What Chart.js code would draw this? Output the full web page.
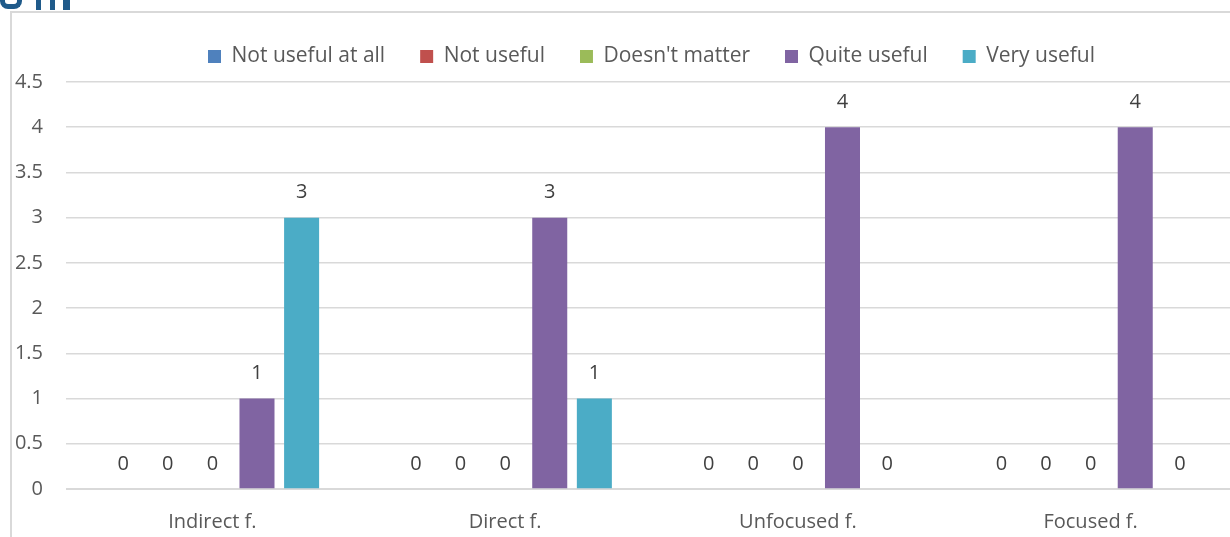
<!DOCTYPE html>
<html>
<head>
<meta charset="utf-8">
<script src="https://cdn.jsdelivr.net/npm/chart.js@4/dist/chart.umd.min.js"></script>
<style>
    html, body { margin: 0; padding: 0; background: #fff; overflow: hidden; }
    body { width: 1230px; height: 537px; position: relative; }
    #wrap { position: absolute; left: 0; top: 0; width: 1250px; height: 537px; }
    .frame { position: absolute; left: 10px; top: 11px; width: 1240px; height: 540px;
             border-left: 2px solid #d9d9d9; border-top: 2px solid #d9d9d9; }
    .logo { position: absolute; top: 0; height: 10px; background: #1f5a8a; }
    .logo.u { left: 0; width: 22px; height: 9px; border-radius: 0 0 8px 8px;
              background: transparent; border: 5px solid #1f5a8a; border-top: 0; box-sizing: border-box; }
</style>
</head>
<body>
<div class="logo u"></div>
<div class="logo" style="left:36px;width:5px"></div>
<div class="logo" style="left:50px;width:5px"></div>
<div class="logo" style="left:63px;width:7px"></div>
<div class="frame"></div>
<div id="wrap"><canvas id="chart" width="1250" height="537"></canvas></div>
<script>
// survey answers per feedback type
const categories = ["Indirect f.", "Direct f.", "Unfocused f.", "Focused f."];
const answerLabels = ["Not useful at all", "Not useful", "Doesn't matter", "Quite useful", "Very useful"];
const notUsefulAtAll = [0, 0, 0, 0];
const notUseful = [0, 0, 0, 0];
const doesntMatter = [0, 0, 0, 0];
const quiteUseful = [1, 3, 4, 4];
const veryUseful = [3, 1, 0, 0];
const yTicks = [0, 0.5, 1, 1.5, 2, 2.5, 3, 3.5, 4, 4.5];

const seriesValues = [notUsefulAtAll, notUseful, doesntMatter, quiteUseful, veryUseful];
const seriesColors = ["#4f81bd", "#c0504d", "#9bbb59", "#8064a2", "#4bacc6"];
const textColor = "#595959";
const fontFamily = "'Open Sans', sans-serif";

// value labels above every bar
const barValueLabels = {
    id: "barValueLabels",
    afterDatasetsDraw(chart) {
        const ctx = chart.ctx;
        ctx.save();
        ctx.font = "20px " + fontFamily;
        ctx.fillStyle = "#404040";
        ctx.textAlign = "center";
        ctx.textBaseline = "middle";
        chart.data.datasets.forEach((ds, i) => {
            chart.getDatasetMeta(i).data.forEach((bar, j) => {
                ctx.fillText(String(ds.data[j]), bar.x, bar.y - 25);
            });
        });
        ctx.restore();
    },
};

// leave a little more room under the legend
const legendGap = {
    id: "legendGap",
    afterInit(chart) {
        const legend = chart.legend;
        const fit = legend.fit.bind(legend);
        legend.fit = function () {
            fit();
            this.height += 5;
        };
    },
};

new Chart(document.getElementById("chart"), {
    type: "bar",
    data: {
        labels: categories,
        datasets: answerLabels.map((label, i) => ({
            label,
            data: seriesValues[i],
            backgroundColor: seriesColors[i],
            categoryPercentage: 0.762,
            barPercentage: 0.785,
        })),
    },
    options: {
        responsive: false,
        animation: false,
        layout: { padding: { top: 11, right: 13, bottom: 0, left: 0 } },
        plugins: {
            legend: {
                position: "top",
                fullSize: false,
                labels: {
                    boxWidth: 13,
                    boxHeight: 13,
                    padding: 35,
                    color: textColor,
                    font: { family: fontFamily, size: 21 },
                },
            },
            tooltip: { enabled: false },
        },
        scales: {
            x: {
                afterFit: scale => { scale.height = 48; },
                grid: { display: false },
                border: { color: "#d9d9d9", width: 1 },
                ticks: { color: textColor, font: { family: fontFamily, size: 20 }, padding: 13 },
            },
            y: {
                min: 0,
                max: 4.5,
                afterBuildTicks: scale => { scale.ticks = yTicks.map(v => ({ value: v })); },
                afterFit: scale => { scale.width = 66; },
                grid: { color: "#d9d9d9", lineWidth: 1.5, drawTicks: false },
                border: { display: false },
                ticks: {
                    color: textColor,
                    font: { family: fontFamily, size: 20 },
                    padding: 23,
                    callback: v => String(v),
                },
            },
        },
    },
    plugins: [barValueLabels, legendGap],
});
</script>
</body>
</html>
